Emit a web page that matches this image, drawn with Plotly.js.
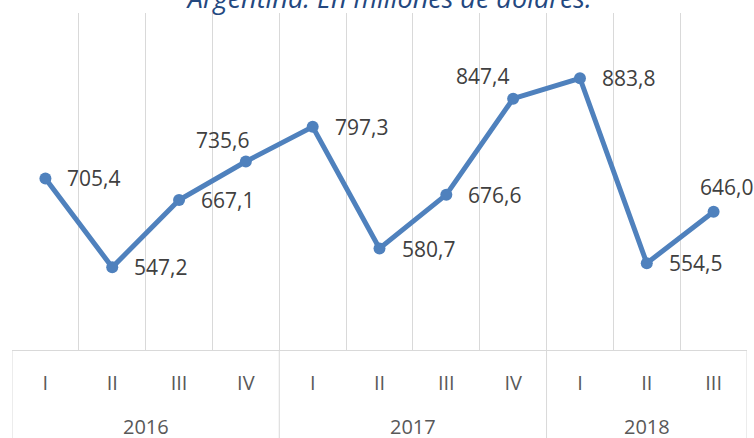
<!DOCTYPE html>
<html>
<head>
<meta charset="utf-8">
<script src="https://cdn.plot.ly/plotly-3.0.1.min.js"></script>
<style>html,body{margin:0;padding:0;background:#fff;}#chart{width:754px;height:438px;}</style>
</head>
<body>
<div id="chart"></div>
<script>
// ---- data ----
const years    = ['2016','2016','2016','2016','2017','2017','2017','2017','2018','2018','2018'];
const quarters = ['I','II','III','IV','I','II','III','IV','I','II','III'];
const values   = [705.4, 547.2, 667.1, 735.6, 797.3, 580.7, 676.6, 847.4, 883.8, 554.5, 646.0];
const titleText = 'Argentina. En millones de dólares.';

// ---- label styling (placement of each data label relative to its point) ----
const labelPlacement = [
  {xanchor:'left',   xshift:20,  yshift:0},
  {xanchor:'left',   xshift:20,  yshift:0},
  {xanchor:'left',   xshift:20,  yshift:0},
  {xanchor:'center', xshift:-23, yshift:22},
  {xanchor:'left',   xshift:20,  yshift:0},
  {xanchor:'left',   xshift:20,  yshift:0},
  {xanchor:'left',   xshift:20,  yshift:0},
  {xanchor:'center', xshift:-31, yshift:23},
  {xanchor:'left',   xshift:20,  yshift:0},
  {xanchor:'left',   xshift:20,  yshift:0},
  {xanchor:'center', xshift:13,  yshift:25}
];

const fmt = v => v.toFixed(1).replace('.', ',');
const LINE = '#4F81BD';
const GRID = '#D9D9D9';
const FONT = 'Open Sans, Noto Sans, sans-serif';

// category positions (index along the axis)
const pos = quarters.map((q, i) => i);
const boundaries = quarters.map((q, i) => i - 0.5).concat([quarters.length - 0.5]);

// year groups: center and edges derived from the years array
const groups = [];
years.forEach((y, i) => {
  const g = groups[groups.length - 1];
  if (g && g.year === y) { g.end = i; }
  else groups.push({year: y, start: i, end: i});
});

const PLOT_H = 438 - 13 - 88;

const trace = {
  type: 'scatter',
  mode: 'lines+markers',
  x: pos,
  y: values,
  line: {color: LINE, width: 5},
  marker: {color: LINE, size: 12},
  hoverinfo: 'skip',
  cliponaxis: false
};

const annotations = values.map((v, i) => ({
  xref: 'x', yref: 'y',
  x: pos[i], y: v,
  text: fmt(v),
  showarrow: false,
  xanchor: labelPlacement[i].xanchor,
  yanchor: 'middle',
  xshift: labelPlacement[i].xshift,
  yshift: labelPlacement[i].yshift,
  font: {family: FONT, size: 21, color: '#404040'}
})).concat(groups.map(g => ({
  xref: 'x', yref: 'paper',
  x: (g.start + g.end) / 2, y: -76 / PLOT_H,
  text: g.year,
  showarrow: false,
  xanchor: 'center', yanchor: 'middle',
  font: {family: FONT, size: 20, color: '#595959'}
})));

const shapes = groups.map(g => g.start - 0.5).concat([groups[groups.length - 1].end + 0.5]).map(b => ({
  type: 'line', xref: 'x', yref: 'paper',
  x0: b, x1: b, y0: 0, y1: -88 / PLOT_H,
  line: {color: GRID, width: 1}
}));

const layout = {
  width: 754, height: 438,
  margin: {l: 12, r: 7, t: 13, b: 88, pad: 0},
  paper_bgcolor: '#ffffff',
  plot_bgcolor: '#ffffff',
  showlegend: false,
  title: {
    text: '<i>' + titleText + '</i>',
    font: {family: FONT, size: 27, color: '#24487F'},
    xref: 'container', yref: 'container',
    x: 0.517, xanchor: 'center',
    y: 1 - 7.5/438, yanchor: 'bottom'
  },
  xaxis: {
    type: 'linear',
    range: [-0.5, 10.5],
    tickmode: 'array',
    tickvals: pos,
    ticktext: quarters,
    showgrid: false,
    minor: {tickmode: 'array', tickvals: boundaries, showgrid: true, gridcolor: GRID, gridwidth: 1, ticks: ''},
    showline: true, linecolor: GRID, linewidth: 1,
    ticks: '',
    tickfont: {family: FONT, size: 20, color: '#595959'},
    ticklabelstandoff: 15,
    automargin: false,
    zeroline: false,
    fixedrange: true
  },
  yaxis: {
    range: [400, 1000],
    visible: false,
    showgrid: false,
    zeroline: false,
    fixedrange: true
  },
  shapes: shapes,
  annotations: annotations
};

Plotly.newPlot('chart', [trace], layout, {displayModeBar: false, staticPlot: true});
</script>
</body>
</html>
